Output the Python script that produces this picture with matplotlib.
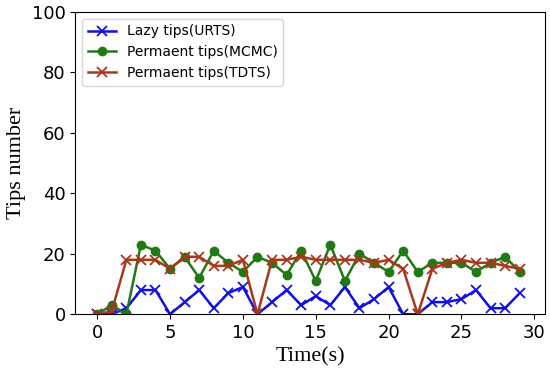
import matplotlib.pyplot as plt
import numpy as np

# Time points (seconds)
time_s = np.arange(30)

# Tip counts
lazy_urts = [0, 0, 2, 8, 8, 0, 4, 8, 2, 7, 9, 0, 4, 8, 3, 6, 3, 9, 2, 5, 9, 0, 0, 4, 4, 5, 8, 2, 2, 7]
perm_mcmc = [0, 3, 0, 23, 21, 15, 19, 12, 21, 17, 14, 19, 17, 13, 21, 11, 23, 11, 20, 17, 14, 21, 14, 17, 17, 17, 14, 17, 19, 14]
perm_tdts = [0, 1, 18, 18, 18, 15, 19, 19, 16, 16, 18, 0, 18, 18, 19, 18, 18, 18, 18, 17, 18, 15, 0, 15, 17, 18, 17, 17, 16, 15]

fig, ax = plt.subplots(figsize=(5.5, 3.71), dpi=100)
ax.plot(time_s, lazy_urts, marker='x', color='#1010e0', lw=1.8, ms=6.5, mew=1.3, label='Lazy tips(URTS)')
ax.plot(time_s, perm_mcmc, marker='o', color='#1f7a14', lw=1.8, ms=6, label='Permaent tips(MCMC)')
ax.plot(time_s, perm_tdts, marker='x', color='#a8381c', lw=1.8, ms=6.5, mew=1.3, label='Permaent tips(TDTS)')

ax.set_xlim(-1.5, 30.7)
ax.set_ylim(0, 100)
ax.set_xticks([0, 5, 10, 15, 20, 25, 30])
ax.set_yticks([0, 20, 40, 60, 80, 100])
ax.tick_params(labelsize=13)
ax.set_xlabel('Time(s)', fontsize=16, family='Liberation Serif')
ax.set_ylabel('Tips number', fontsize=16, family='Liberation Serif')
ax.legend(loc='upper left', fontsize=10, handlelength=2)

fig.subplots_adjust(left=0.137, right=0.99, top=0.968, bottom=0.153)
fig.savefig('out.png')
